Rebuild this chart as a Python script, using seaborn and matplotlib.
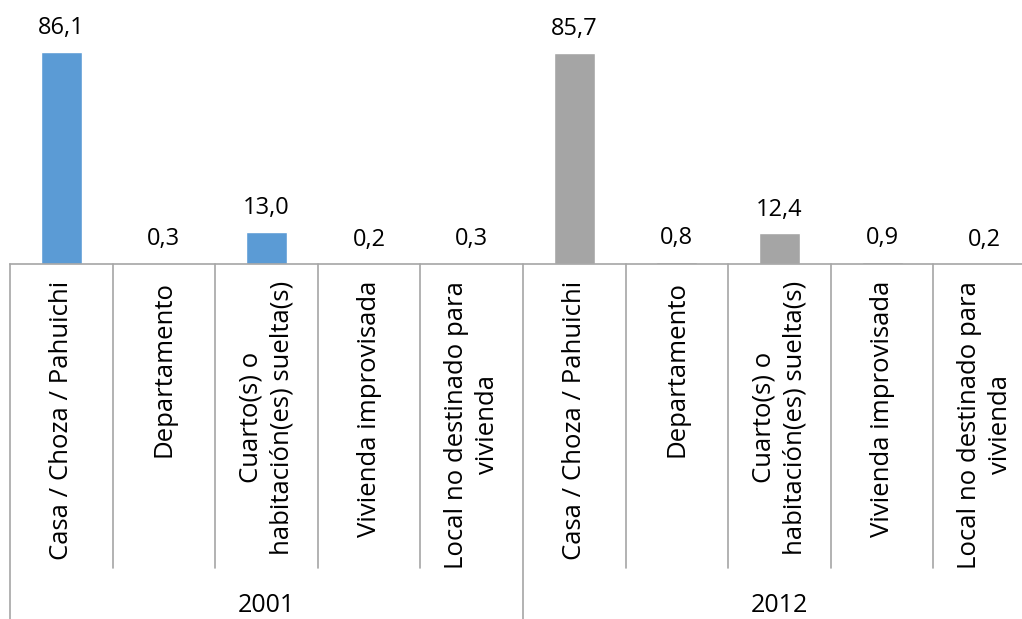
import matplotlib
matplotlib.use("Agg")
import matplotlib.pyplot as plt
import matplotlib.transforms as mtransforms
import pandas as pd
import seaborn as sns

# datos
anios = ["2001", "2012"]
tipos = ["Casa / Choza / Pahuichi", "Departamento",
         "Cuarto(s) o\nhabitación(es) suelta(s)", "Vivienda improvisada",
         "Local no destinado para\nvivienda"]
valores_2001 = [86.1, 0.3, 13.0, 0.2, 0.3]
valores_2012 = [85.7, 0.8, 12.4, 0.9, 0.2]
colores = ["#5B9BD5", "#A5A5A5"]

# armamos la tabla larga
filas = []
for anio, vals in zip(anios, [valores_2001, valores_2012]):
    for t, v in zip(tipos, vals):
        filas.append({"clave": anio + "|" + t, "tipo": t, "anio": anio, "valor": v})
df = pd.DataFrame(filas)

sns.set_style("white")
plt.rcParams["font.family"] = ["Open Sans", "DejaVu Sans"]
gris = "#A6A6A6"

fig = plt.figure(figsize=(10.22, 6.19), dpi=100)
# el eje se sale un poco por la derecha, como en el original
ax = fig.add_axes([10 / 1022, 1 - 264 / 619, 1026 / 1022, 264 / 619])

sns.barplot(data=df, x="clave", y="valor", hue="anio", palette=colores,
            dodge=False, width=0.4, saturation=1, legend=False, ax=ax)

# etiquetas de valor con coma decimal
for cont, vals in zip(ax.containers, [valores_2001, valores_2012]):
    ax.bar_label(cont, labels=[f"{v:.1f}".replace(".", ",") for v in vals],
                 padding=8.5, fontsize=17, color="black")

ax.set_ylim(0, 107)
ax.set_xlim(-0.5, len(df) - 0.5)
ax.set_yticks([])
ax.set_xticks(range(len(df)))
ax.set_xticklabels(df["tipo"], rotation=90, fontsize=18.5, color="black",
                   multialignment="center", linespacing=1.3)
ax.tick_params(axis="x", length=0, pad=12)
ax.set_xlabel("")
ax.set_ylabel("")
for s in ["top", "left", "right"]:
    ax.spines[s].set_visible(False)
ax.spines["bottom"].set_color(gris)
ax.spines["bottom"].set_linewidth(1.2)

# lineas separadoras del eje de categorias
trans = mtransforms.blended_transform_factory(ax.transData, ax.transAxes)
n = len(tipos)
for i in range(len(df) + 1):
    x = i - 0.5
    y_fin = -1.345 if i % n == 0 else -1.152
    ax.plot([x, x], [0, y_fin], color=gris, lw=1.2, transform=trans, clip_on=False)

# etiquetas de año
for g, anio in enumerate(anios):
    ax.text(g * n + (n - 1) / 2, -1.295, anio, transform=trans,
            ha="center", va="center", fontsize=18, color="black")

fig.savefig("out.png", dpi=100)
